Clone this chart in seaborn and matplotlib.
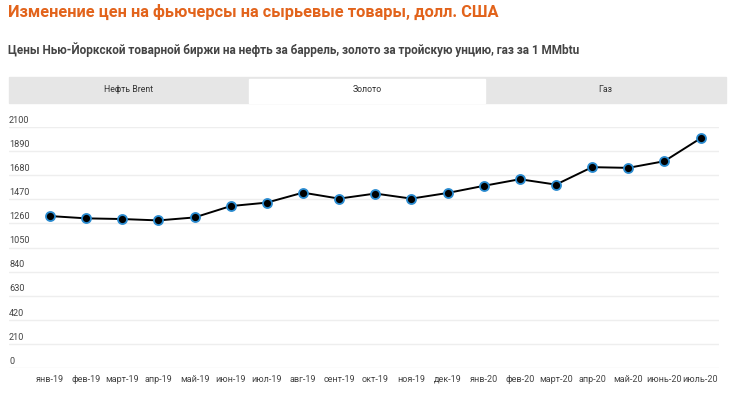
import matplotlib
matplotlib.use("Agg")
import matplotlib.pyplot as plt
import matplotlib.patches as mpatches
import pandas as pd
import seaborn as sns

MONTHS = ["янв-19", "фев-19", "март-19", "апр-19", "май-19", "июн-19", "июл-19",
          "авг-19", "сент-19", "окт-19", "ноя-19", "дек-19", "янв-20", "фев-20",
          "март-20", "апр-20", "май-20", "июнь-20", "июль-20"]
GOLD = [1324, 1304, 1298, 1286, 1312, 1411, 1441, 1528, 1476, 1520, 1476, 1525,
        1587, 1645, 1598, 1750, 1744, 1802, 2001]
Y_TICKS = [0, 210, 420, 630, 840, 1050, 1260, 1470, 1680, 1890, 2100]
TABS = ["Нефть Brent", "Золото", "Газ"]

TITLE = "Изменение цен на фьючерсы на сырьевые товары, долл. США"
SUBTITLE = "Цены Нью-Йоркской товарной биржи на нефть за баррель, золото за тройскую унцию, газ за 1 MMbtu"

sns.set_theme(style="white")
plt.rcParams["font.family"] = ["Roboto", "DejaVu Sans"]

df = pd.DataFrame({"month": range(len(MONTHS)), "price": GOLD})

W, H = 730, 393
fig = plt.figure(figsize=(W / 100, H / 100), dpi=100)

def fx(px):
    return px / W

def fy(py):
    return 1 - py / H

# headings
fig.text(fx(8), fy(12), TITLE, fontsize=11.8, fontweight="bold", color="#e2631b",
         va="center", ha="left")
fig.text(fx(8), fy(50), SUBTITLE, fontsize=8.5, fontweight="bold", color="#444444",
         va="center", ha="left")

# tab bar
fig.patches.append(mpatches.Rectangle((fx(9), fy(102.5)), fx(717), 25.5 / H,
                                      transform=fig.transFigure, color="#e6e6e6", zorder=0))
fig.patches.append(mpatches.Rectangle((fx(249), fy(102.5)), fx(236), 23.5 / H,
                                      transform=fig.transFigure, color="white", zorder=1))
for label, cx in zip(TABS, [129, 367, 605]):
    fig.text(fx(cx), fy(89), label, fontsize=6.3, color="#333333", ha="center", va="center")

# chart
ax = fig.add_axes([fx(9), fy(368), fx(710), 241 / H])
sns.lineplot(data=df, x="month", y="price", ax=ax, color="black", linewidth=1.4,
             marker="o", markersize=6.5, markerfacecolor="black",
             markeredgecolor="#2a8bd0", markeredgewidth=1.3, clip_on=False)

step = 36.15
ax.set_xlim(-41 / step, 18 + 18.5 / step)
ax.set_ylim(0, 2100)
ax.set_yticks(Y_TICKS)
ax.grid(axis="y", color="#eeeeee", linewidth=1)
ax.set_yticklabels([])
ax.tick_params(axis="y", length=0)
for v in Y_TICKS:
    ax.text(0, v + 20, str(v), transform=ax.get_yaxis_transform(), fontsize=6.6,
            color="#444444", ha="left", va="bottom")

ax.set_xticks(range(len(MONTHS)))
ax.set_xticklabels(MONTHS, fontsize=6.5, color="#444444")
ax.tick_params(axis="x", length=0, pad=5)
ax.set_xlabel("")
ax.set_ylabel("")
for s in ax.spines.values():
    s.set_visible(False)

fig.savefig("out.png", dpi=100)
